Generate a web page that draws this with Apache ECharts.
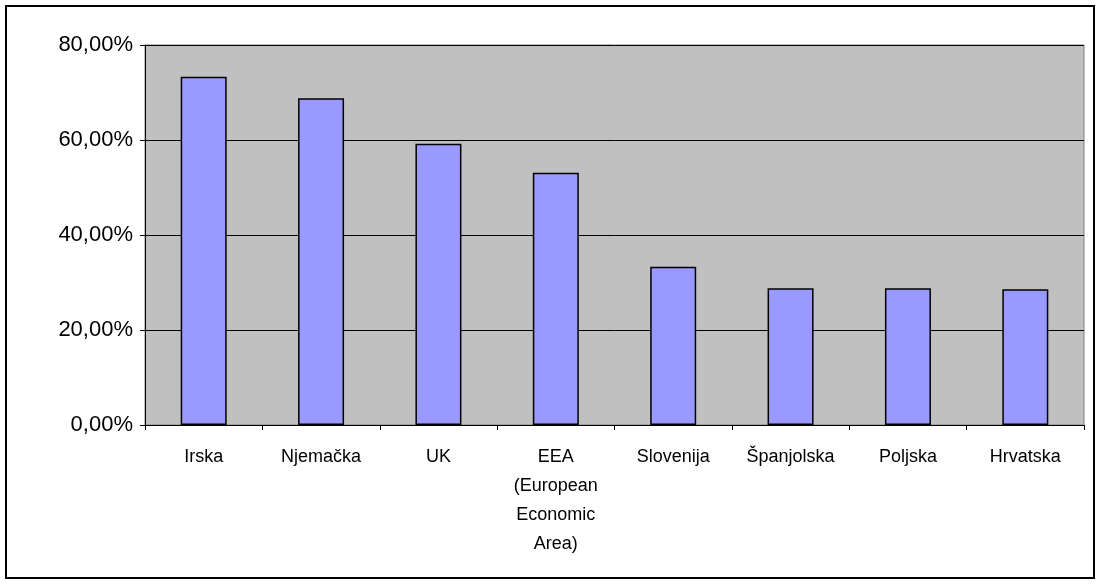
<!DOCTYPE html>
<html>
<head>
<meta charset="utf-8">
<script src="https://cdn.jsdelivr.net/npm/echarts@6/dist/echarts.min.js"></script>
<style>
  body { margin: 0; background: #fff; }
  #frame { position: absolute; left: 5px; top: 5px; width: 1090px; height: 574px; border: 2px solid #000; box-sizing: border-box; }
  #main { width: 1102px; height: 584px; }
</style>
</head>
<body>
<div id="frame"></div>
<div id="main"></div>
<script>
// podaci
var categories = ['Irska', 'Njemačka', 'UK', 'EEA\n(European\nEconomic\nArea)', 'Slovenija', 'Španjolska', 'Poljska', 'Hrvatska']
var values = [73.3, 68.8, 59.2, 53.1, 33.3, 28.8, 28.8, 28.6]

var myChart = echarts.init(document.getElementById('main'))
myChart.setOption({
  animation: false,
  grid: {
    left: 145, right: 18, top: 45, bottom: 159,
    show: true, backgroundColor: '#c0c0c0', borderColor: '#808080', borderWidth: 1
  },
  xAxis: {
    type: 'category',
    data: categories,
    axisLine: { lineStyle: { color: '#000' } },
    axisTick: { show: true, lineStyle: { color: '#000' } },
    axisLabel: { color: '#000', fontFamily: 'Liberation Sans', fontSize: 18, lineHeight: 29, margin: 18, interval: 0 }
  },
  yAxis: {
    type: 'value',
    min: 0, max: 80, interval: 20,
    axisLine: { show: true, lineStyle: { color: '#000' } },
    axisTick: { show: true, lineStyle: { color: '#000' } },
    splitLine: { lineStyle: { color: '#000' } },
    axisLabel: {
      color: '#000', fontFamily: 'Liberation Sans', fontSize: 22, margin: 12,
      formatter: function (v) { return v.toFixed(2).replace('.', ',') + '%' }
    }
  },
  series: [{
    type: 'bar',
    data: values,
    barWidth: 46,
    itemStyle: { color: '#9999ff', borderColor: '#000', borderWidth: 1.5 }
  }]
})
</script>
</body>
</html>
